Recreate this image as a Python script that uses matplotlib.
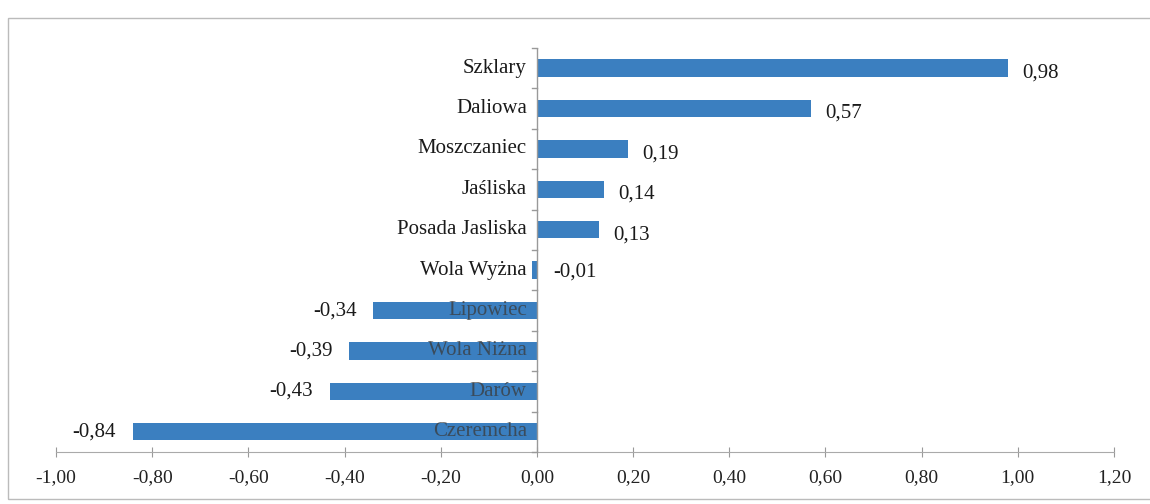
import matplotlib
matplotlib.use("Agg")
import matplotlib.pyplot as plt
from matplotlib.patches import Rectangle

categories = ["Szklary", "Daliowa", "Moszczaniec", "Jaśliska", "Posada Jasliska",
              "Wola Wyżna", "Lipowiec", "Wola Niżna", "Darów", "Czeremcha"]
values = [0.98, 0.57, 0.19, 0.14, 0.13, -0.01, -0.34, -0.39, -0.43, -0.84]
xticks = [-1.0, -0.8, -0.6, -0.4, -0.2, 0.0, 0.2, 0.4, 0.6, 0.8, 1.0, 1.2]

def fmt(v):
    return f"{v:.2f}".replace(".", ",")

plt.rcParams['font.family'] = ['Liberation Serif', 'DejaVu Serif']

fig = plt.figure(figsize=(11.5, 5.04), dpi=100)
ax = fig.add_axes([0.0487, 0.1032, 0.920, 0.8016])

bar_color = "#3b7fc0"
n = len(categories)
ypos = list(range(n))
ax.barh(ypos, values, height=0.43, color=bar_color, zorder=2)
ax.set_ylim(n - 0.5, -0.5)
ax.set_xlim(-1.0, 1.2)

ax.set_xticks(xticks)
ax.set_xticklabels([fmt(t) for t in xticks], fontsize=14, color="#222222")
ax.tick_params(axis='x', direction='inout', length=7, color="#999999", pad=9)
ax.set_yticks([])

for s in ["top", "right", "left"]:
    ax.spines[s].set_visible(False)
ax.spines["bottom"].set_color("#aaaaaa")

# y axis line at zero
ax.axvline(0, color="#999999", lw=1.0, zorder=3)
for b in range(n + 1):
    ax.plot([-0.011, 0], [b - 0.5, b - 0.5], color="#999999", lw=1.0, zorder=3,
            clip_on=False)

for i, (c, v) in enumerate(zip(categories, values)):
    if v >= 0 or c == "Wola Wyżna":
        ax.text(-0.021, i, c, ha='right', va='center', fontsize=15, color="#1a1a1a",
                zorder=4)
    else:
        ax.text(-0.021, i, c, ha='right', va='center', fontsize=15, color="#3a3a3a",
                alpha=0.75, zorder=4)
    if v >= 0:
        ax.text(v + 0.029, i + 0.12, fmt(v), ha='left', va='center', fontsize=15,
                color="#1a1a1a")
    elif v > -0.05:
        ax.text(0.035, i + 0.05, fmt(v), ha='left', va='center', fontsize=15,
                color="#1a1a1a")
    else:
        ax.text(v - 0.035, i, fmt(v), ha='right', va='center', fontsize=15,
                color="#1a1a1a")

# outer frame
fig.patches.append(Rectangle((0.007, 0.01), 1.0, 0.955, transform=fig.transFigure,
                             fill=False, edgecolor="#bbbbbb", lw=1.0))

fig.savefig("out.png", dpi=100, facecolor="white")
